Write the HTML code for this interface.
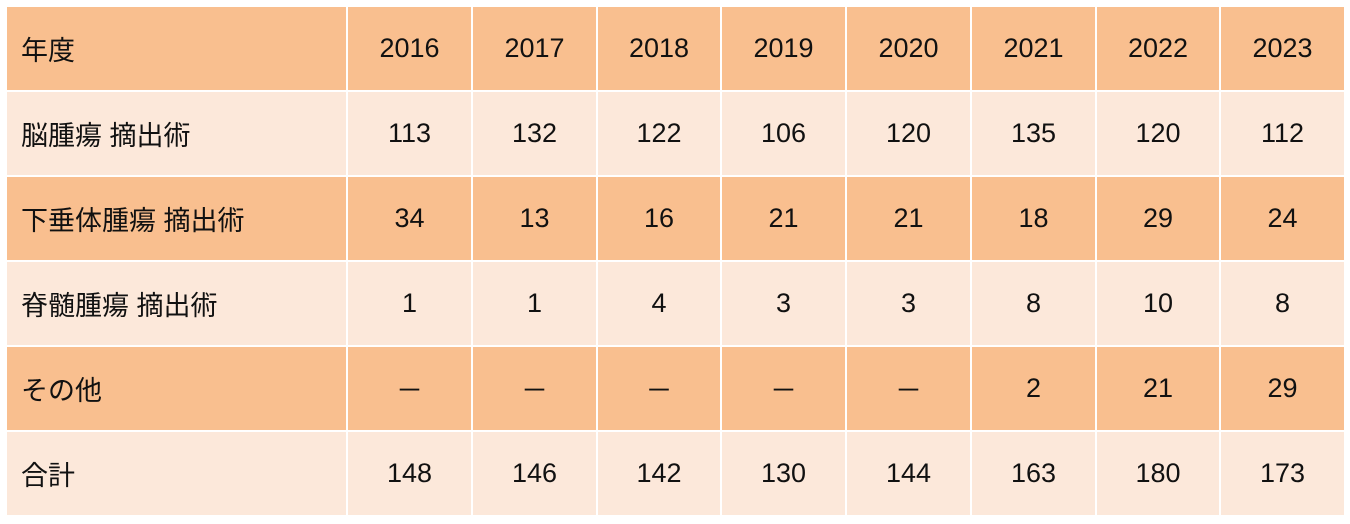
<!DOCTYPE html>
<html><head><meta charset="utf-8"><style>
body{margin:0;background:#fff;width:1350px;height:524px;overflow:hidden}
table{position:absolute;left:5px;top:5px;border-collapse:collapse;table-layout:fixed;font-family:"Liberation Sans","Noto Sans CJK JP",sans-serif;font-size:27px;color:#111}
td{border:2px solid #fff;height:83px;padding:0;text-align:center}
td.l{text-align:left;padding-left:14px}
tr.d td{background:#F9BF8F}
tr.p td{background:#FCE8DA}
</style></head><body>
<table>
<colgroup><col style="width:341px"><col style="width:125px"><col style="width:125px"><col style="width:124px"><col style="width:125px"><col style="width:125px"><col style="width:125px"><col style="width:124px"><col style="width:125px"></colgroup>
<tr class="d"><td class="l">年度</td><td>2016</td><td>2017</td><td>2018</td><td>2019</td><td>2020</td><td>2021</td><td>2022</td><td>2023</td></tr>
<tr class="p"><td class="l">脳腫瘍 摘出術</td><td>113</td><td>132</td><td>122</td><td>106</td><td>120</td><td>135</td><td>120</td><td>112</td></tr>
<tr class="d"><td class="l">下垂体腫瘍 摘出術</td><td>34</td><td>13</td><td>16</td><td>21</td><td>21</td><td>18</td><td>29</td><td>24</td></tr>
<tr class="p"><td class="l">脊髄腫瘍 摘出術</td><td>1</td><td>1</td><td>4</td><td>3</td><td>3</td><td>8</td><td>10</td><td>8</td></tr>
<tr class="d"><td class="l">その他</td><td>－</td><td>－</td><td>－</td><td>－</td><td>－</td><td>2</td><td>21</td><td>29</td></tr>
<tr class="p"><td class="l">合計</td><td>148</td><td>146</td><td>142</td><td>130</td><td>144</td><td>163</td><td>180</td><td>173</td></tr>
</table>
</body></html>
